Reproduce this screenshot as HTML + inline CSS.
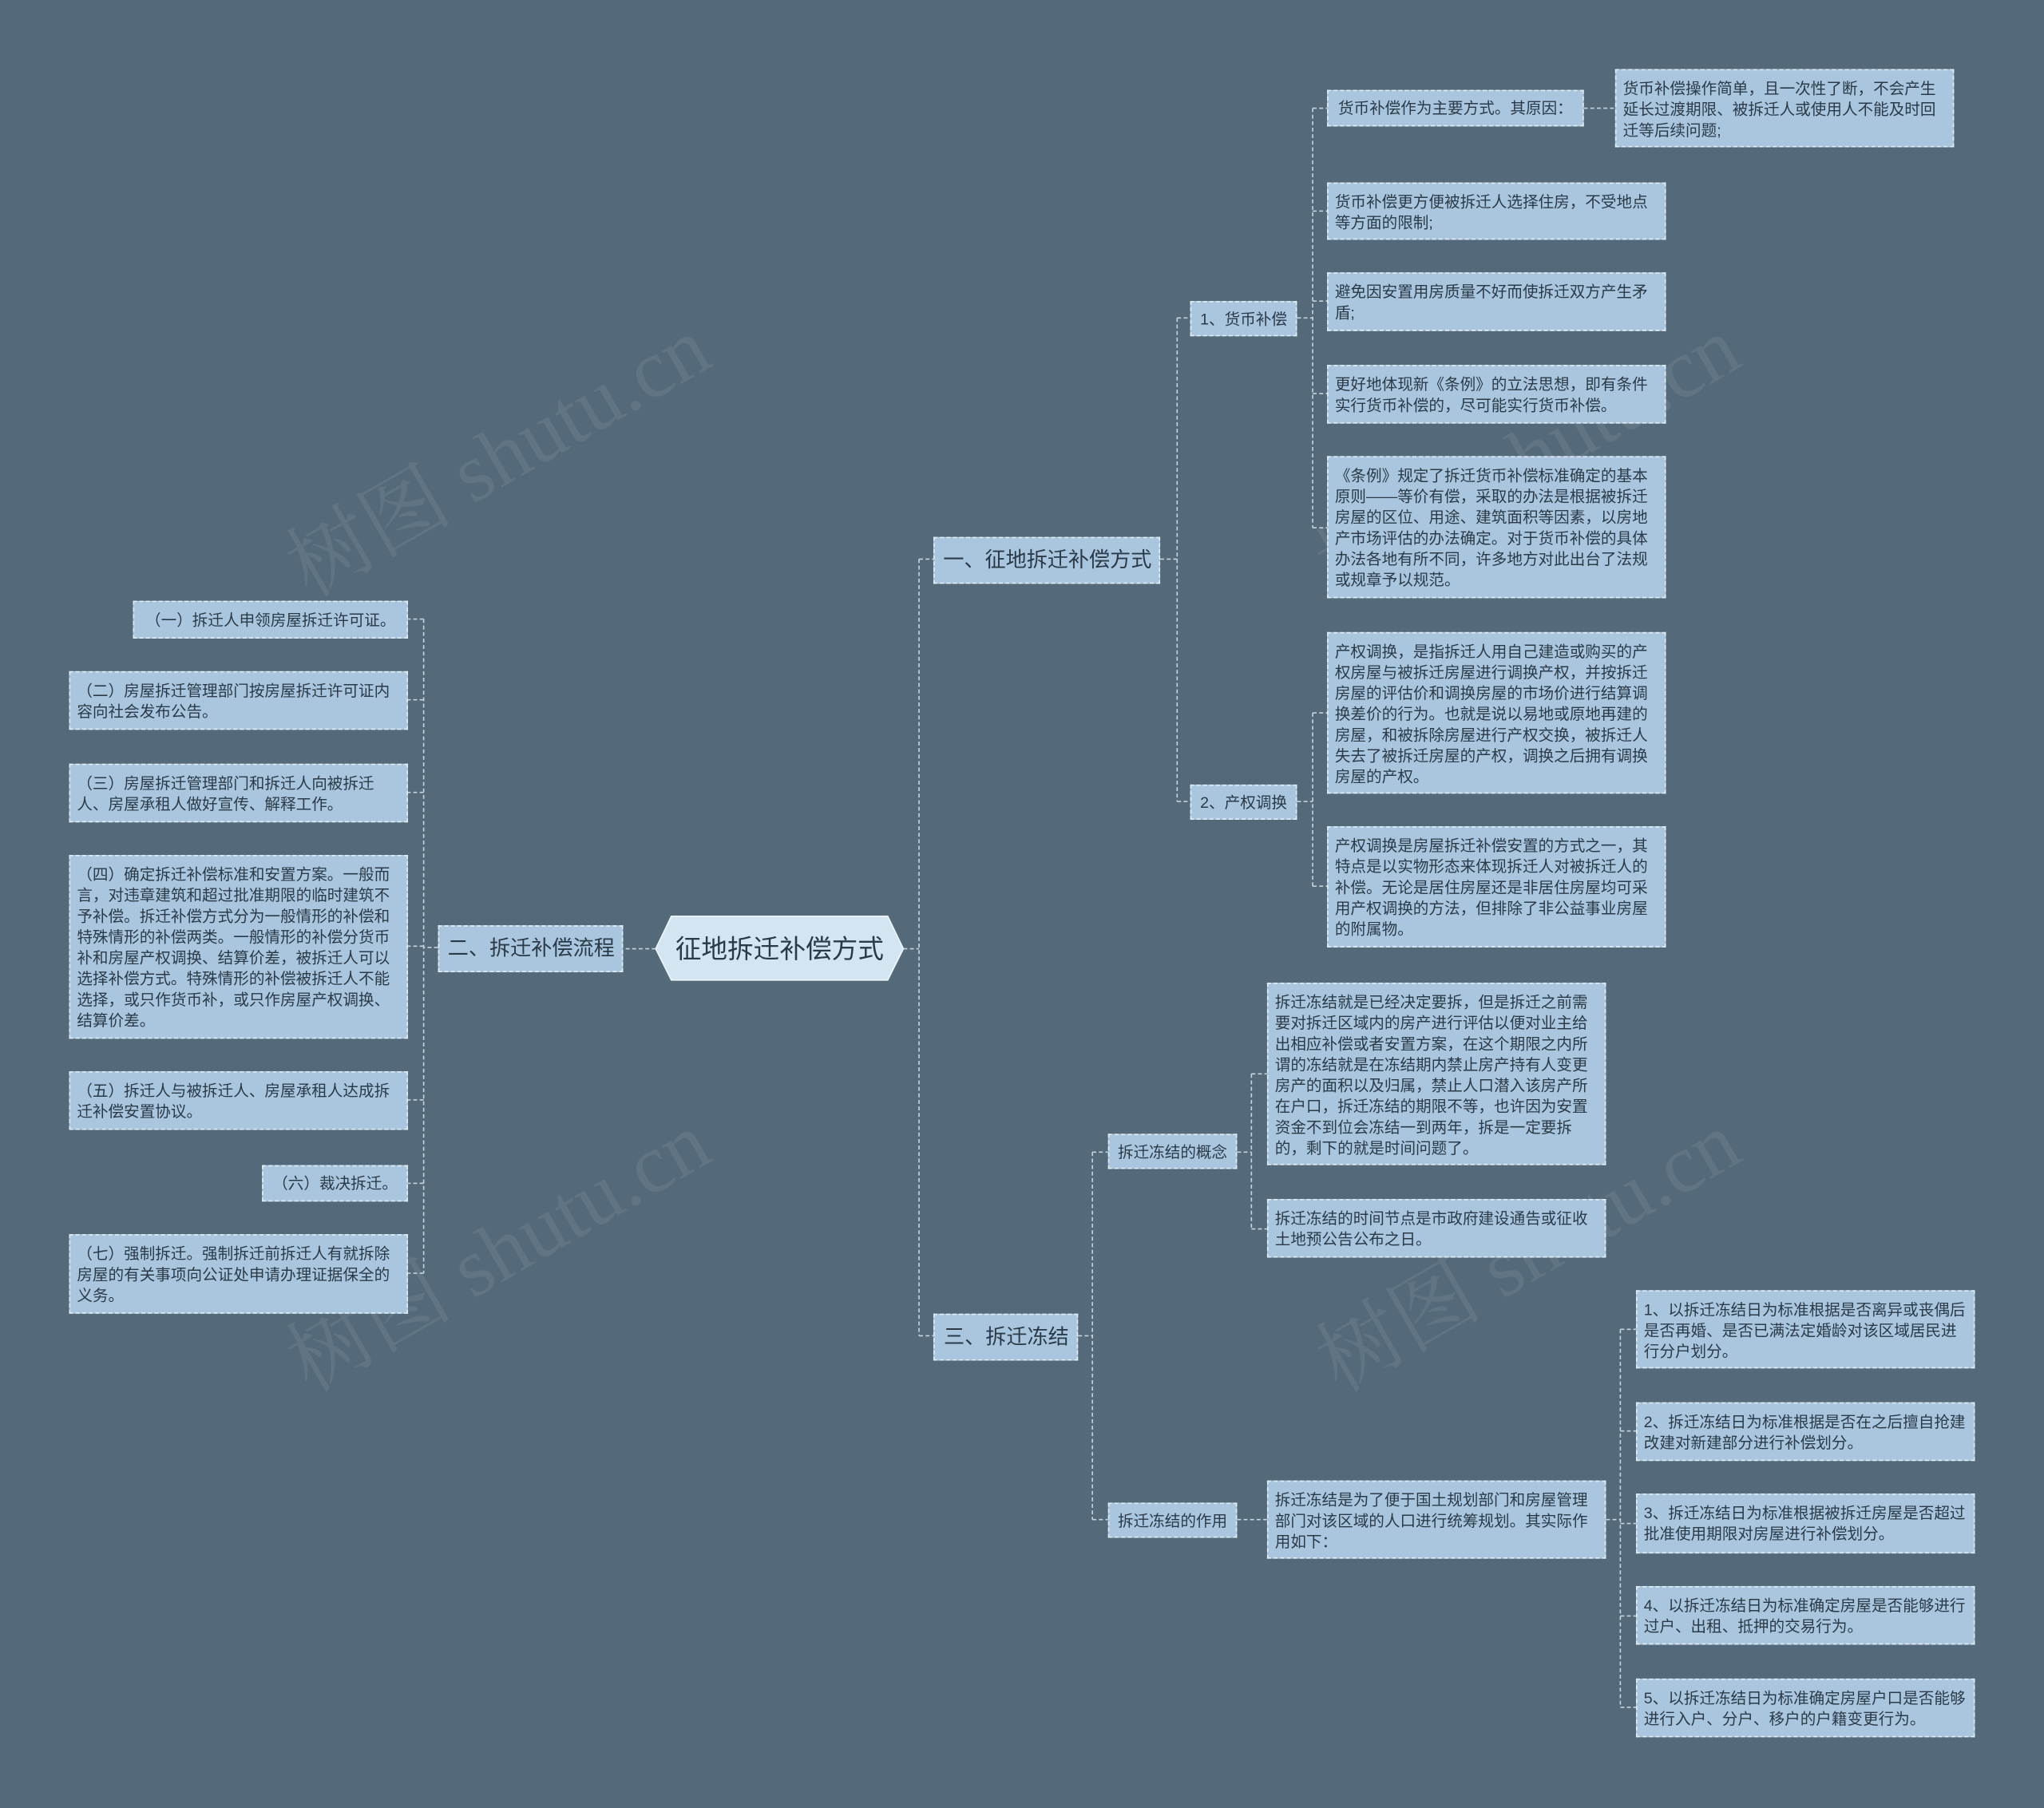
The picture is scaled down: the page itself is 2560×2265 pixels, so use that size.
<!DOCTYPE html>
<html><head><meta charset="utf-8"><style>
html,body{margin:0;padding:0;background:#546a7a;overflow:hidden;width:2560px;height:2265px}
#w{position:absolute;left:0;top:0;width:1568px;height:1387px;transform:scale(1.632653);transform-origin:0 0;font-family:"Liberation Sans","Noto Sans CJK SC",sans-serif;}
.n{position:absolute;box-sizing:border-box;background:#a9c6de;border:1px dashed #e2edf5;color:#2b3a48;font-size:12px;line-height:16px;padding:6px 4px 5px 5px;overflow:hidden}
.s{display:flex;align-items:center;justify-content:center;padding:0 4px}
.l1{font-size:16px;display:flex;align-items:center;justify-content:center}
.wm{position:absolute;color:rgba(255,255,255,0.07);font-size:64px;font-family:"Liberation Serif","Noto Serif CJK SC",serif;transform:rotate(-30deg);white-space:nowrap}
</style></head><body><div id="w">
<div class="wm" style="left:200px;top:300px">树图 shutu.cn</div>
<div class="wm" style="left:200px;top:910px">树图 shutu.cn</div>
<div class="wm" style="left:990px;top:300px">树图 shutu.cn</div>
<div class="wm" style="left:990px;top:910px">树图 shutu.cn</div>
<svg width="1568" height="1387" style="position:absolute;left:0;top:0" fill="none" stroke="#c4d3de" stroke-width="1" stroke-dasharray="3,2">
<path d="M693 728H705M705 429V1025M705 429H716M705 1025H716"/>
<path d="M503 728H478"/>
<path d="M336 727H325M325 475V977M325 475H313M325 537H313M325 608H313M325 726H313M325 844H313M325 908H313M325 977H313"/>
<path d="M890 429H903M903 244V615M903 244H913M903 615H913"/>
<path d="M995 244H1007M1007 83V405M1007 83H1018M1007 162H1018M1007 231H1018M1007 302H1018M1007 405H1018"/>
<path d="M1215 83H1239"/>
<path d="M995 615H1007M1007 547V680M1007 547H1018M1007 680H1018"/>
<path d="M827 1025H838M838 884V1166M838 884H850M838 1166H850"/>
<path d="M949 884H960M960 824V943M960 824H972M960 943H972"/>
<path d="M949 1166H972"/>
<path d="M1232 1166H1243M1243 1020V1310M1243 1020H1255M1243 1098H1255M1243 1169H1255M1243 1240H1255M1243 1310H1255"/>
</svg>
<svg width="1568" height="1387" style="position:absolute;left:0;top:0">
<polygon points="515,703 681,703 693,728 681,752 515,752 503,728" fill="#d4e5f2" stroke="#eef5fa" stroke-width="1"/>
<text x="598" y="735" text-anchor="middle" font-size="20" fill="#2b3a48" font-family="Liberation Sans,Noto Sans CJK SC,sans-serif">征地拆迁补偿方式</text>
</svg>
<div class="n l1" style="left:716px;top:412px;width:174px;height:36px">一、征地拆迁补偿方式</div>
<div class="n l1" style="left:336px;top:710px;width:142px;height:36px">二、拆迁补偿流程</div>
<div class="n l1" style="left:716px;top:1008px;width:111px;height:36px">三、拆迁冻结</div>
<div class="n s" style="left:913px;top:231px;width:82px;height:27px">1、货币补偿</div>
<div class="n s" style="left:913px;top:602px;width:82px;height:27px">2、产权调换</div>
<div class="n s" style="left:1018px;top:69px;width:197px;height:28px">货币补偿作为主要方式。其原因：</div>
<div class="n" style="left:1239px;top:53px;width:260px;height:60px">货币补偿操作简单，且一次性了断，不会产生延长过渡期限、被拆迁人或使用人不能及时回迁等后续问题;</div>
<div class="n" style="left:1018px;top:140px;width:260px;height:44px">货币补偿更方便被拆迁人选择住房，不受地点等方面的限制;</div>
<div class="n" style="left:1018px;top:209px;width:260px;height:45px">避免因安置用房质量不好而使拆迁双方产生矛盾;</div>
<div class="n" style="left:1018px;top:280px;width:260px;height:45px">更好地体现新《条例》的立法思想，即有条件实行货币补偿的，尽可能实行货币补偿。</div>
<div class="n" style="left:1018px;top:350px;width:260px;height:109px">《条例》规定了拆迁货币补偿标准确定的基本原则——等价有偿，采取的办法是根据被拆迁房屋的区位、用途、建筑面积等因素，以房地产市场评估的办法确定。对于货币补偿的具体办法各地有所不同，许多地方对此出台了法规或规章予以规范。</div>
<div class="n" style="left:1018px;top:485px;width:260px;height:124px">产权调换，是指拆迁人用自己建造或购买的产权房屋与被拆迁房屋进行调换产权，并按拆迁房屋的评估价和调换房屋的市场价进行结算调换差价的行为。也就是说以易地或原地再建的房屋，和被拆除房屋进行产权交换，被拆迁人失去了被拆迁房屋的产权，调换之后拥有调换房屋的产权。</div>
<div class="n" style="left:1018px;top:634px;width:260px;height:93px">产权调换是房屋拆迁补偿安置的方式之一，其特点是以实物形态来体现拆迁人对被拆迁人的补偿。无论是居住房屋还是非居住房屋均可采用产权调换的方法，但排除了非公益事业房屋的附属物。</div>
<div class="n s" style="left:850px;top:870px;width:99px;height:27px">拆迁冻结的概念</div>
<div class="n s" style="left:850px;top:1153px;width:99px;height:27px">拆迁冻结的作用</div>
<div class="n" style="left:972px;top:754px;width:260px;height:140px">拆迁冻结就是已经决定要拆，但是拆迁之前需要对拆迁区域内的房产进行评估以便对业主给出相应补偿或者安置方案，在这个期限之内所谓的冻结就是在冻结期内禁止房产持有人变更房产的面积以及归属，禁止人口潜入该房产所在户口，拆迁冻结的期限不等，也许因为安置资金不到位会冻结一到两年，拆是一定要拆的，剩下的就是时间问题了。</div>
<div class="n" style="left:972px;top:920px;width:260px;height:45px">拆迁冻结的时间节点是市政府建设通告或征收土地预公告公布之日。</div>
<div class="n" style="left:972px;top:1136px;width:260px;height:60px">拆迁冻结是为了便于国土规划部门和房屋管理部门对该区域的人口进行统筹规划。其实际作用如下：</div>
<div class="n" style="left:1255px;top:990px;width:260px;height:60px">1、以拆迁冻结日为标准根据是否离异或丧偶后是否再婚、是否已满法定婚龄对该区域居民进行分户划分。</div>
<div class="n" style="left:1255px;top:1076px;width:260px;height:45px">2、拆迁冻结日为标准根据是否在之后擅自抢建改建对新建部分进行补偿划分。</div>
<div class="n" style="left:1255px;top:1146px;width:260px;height:46px">3、拆迁冻结日为标准根据被拆迁房屋是否超过批准使用期限对房屋进行补偿划分。</div>
<div class="n" style="left:1255px;top:1217px;width:260px;height:45px">4、以拆迁冻结日为标准确定房屋是否能够进行过户、出租、抵押的交易行为。</div>
<div class="n" style="left:1255px;top:1288px;width:260px;height:45px">5、以拆迁冻结日为标准确定房屋户口是否能够进行入户、分户、移户的户籍变更行为。</div>
<div class="n s" style="left:102px;top:461px;width:211px;height:29px">（一）拆迁人申领房屋拆迁许可证。</div>
<div class="n" style="left:53px;top:515px;width:260px;height:45px">（二）房屋拆迁管理部门按房屋拆迁许可证内容向社会发布公告。</div>
<div class="n" style="left:53px;top:586px;width:260px;height:45px">（三）房屋拆迁管理部门和拆迁人向被拆迁人、房屋承租人做好宣传、解释工作。</div>
<div class="n" style="left:53px;top:656px;width:260px;height:141px">（四）确定拆迁补偿标准和安置方案。一般而言，对违章建筑和超过批准期限的临时建筑不予补偿。拆迁补偿方式分为一般情形的补偿和特殊情形的补偿两类。一般情形的补偿分货币补和房屋产权调换、结算价差，被拆迁人可以选择补偿方式。特殊情形的补偿被拆迁人不能选择，或只作货币补，或只作房屋产权调换、结算价差。</div>
<div class="n" style="left:53px;top:822px;width:260px;height:45px">（五）拆迁人与被拆迁人、房屋承租人达成拆迁补偿安置协议。</div>
<div class="n s" style="left:201px;top:894px;width:112px;height:28px">（六）裁决拆迁。</div>
<div class="n" style="left:53px;top:947px;width:260px;height:61px">（七）强制拆迁。强制拆迁前拆迁人有就拆除房屋的有关事项向公证处申请办理证据保全的义务。</div>
</div></body></html>
